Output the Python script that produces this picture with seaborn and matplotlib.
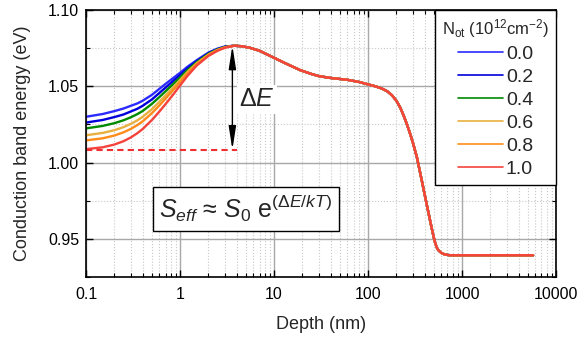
import pandas as pd
import matplotlib
matplotlib.use('Agg')
import matplotlib.pyplot as plt
import seaborn as sns
from matplotlib.ticker import MultipleLocator, FuncFormatter, LogLocator
from matplotlib.lines import Line2D

# N_ot levels (10^12 cm^-2) and colours
levels = ['0.0', '0.2', '0.4', '0.6', '0.8', '1.0']
colors = ['#2b2bff', '#0000dd', '#008a00', '#e8b040', '#ff8c1a', '#f4433c']

# near-surface part, differs per N_ot
depth_left = [0.1, 0.15, 0.2, 0.25, 0.3, 0.35, 0.4, 0.5, 0.6, 0.7, 0.85, 1.0, 1.2, 1.5, 2.0, 2.5, 3.0, 3.75]
e_00 = [1.0300, 1.0318, 1.0337, 1.0354, 1.0372, 1.0387, 1.0405, 1.0443, 1.0482, 1.0515, 1.0555, 1.0588, 1.0628, 1.0670, 1.0720, 1.0746, 1.0760, 1.0765]
e_02 = [1.0262, 1.0279, 1.0298, 1.0315, 1.0335, 1.0352, 1.0372, 1.0413, 1.0455, 1.0491, 1.0536, 1.0573, 1.0617, 1.0664, 1.0716, 1.0743, 1.0759, 1.0765]
e_04 = [1.0224, 1.0240, 1.0258, 1.0277, 1.0297, 1.0317, 1.0338, 1.0384, 1.0428, 1.0467, 1.0516, 1.0558, 1.0606, 1.0657, 1.0712, 1.0741, 1.0757, 1.0765]
e_06 = [1.0179, 1.0194, 1.0212, 1.0232, 1.0254, 1.0276, 1.0300, 1.0349, 1.0397, 1.0440, 1.0494, 1.0541, 1.0594, 1.0650, 1.0707, 1.0738, 1.0755, 1.0765]
e_08 = [1.0145, 1.0159, 1.0177, 1.0198, 1.0221, 1.0245, 1.0270, 1.0323, 1.0373, 1.0419, 1.0477, 1.0527, 1.0584, 1.0644, 1.0704, 1.0736, 1.0754, 1.0765]
e_10 = [1.0088, 1.0100, 1.0118, 1.0140, 1.0165, 1.0192, 1.0220, 1.0278, 1.0333, 1.0383, 1.0448, 1.0505, 1.0568, 1.0635, 1.0698, 1.0732, 1.0752, 1.0765]

# deeper part, same for all curves
depth_tail = [4.5, 5.5, 7, 10, 13, 19, 25, 30, 40, 60, 80, 100, 120, 140, 160, 180, 200, 220, 240,
              260, 280, 300, 330, 373, 420, 474, 500, 520, 540, 560, 600, 650, 720, 800, 1000, 2000, 5700]
e_tail = [1.0762, 1.0752, 1.0732, 1.0686, 1.0652, 1.0605, 1.0580, 1.0566, 1.0554, 1.0542, 1.0528,
          1.0512, 1.0499, 1.0485, 1.0467, 1.0440, 1.0405, 1.0360, 1.0305, 1.0248, 1.0189, 1.0130,
          1.0037, 0.9882, 0.9728, 0.9574, 0.9510, 0.9470, 0.9442, 0.9426, 0.9409, 0.9399, 0.9394,
          0.9393, 0.9393, 0.9393, 0.9393]

series = [e_00, e_02, e_04, e_06, e_08, e_10]
rows = []
for lab, vals in zip(levels, series):
    for d, e in zip(depth_left + depth_tail, vals + e_tail):
        rows.append({'depth': d, 'energy': e, 'N_ot': lab})
df = pd.DataFrame(rows)

# reference level / arrow position
ref_depth = [0.1, 4.0]
ref_level = e_10[0] - 0.0003
peak = max(e_00)
arrow_depth = 3.6

sns.set_style('ticks')
plt.rcParams['font.family'] = ['Liberation Sans', 'DejaVu Sans']
plt.rcParams['mathtext.fontset'] = 'custom'
plt.rcParams['mathtext.rm'] = 'Liberation Sans'
plt.rcParams['mathtext.it'] = 'Liberation Sans:italic'
plt.rcParams['mathtext.bf'] = 'Liberation Sans:bold'

fig, ax = plt.subplots(figsize=(5.78, 3.4), dpi=100)
fig.subplots_adjust(left=0.149, right=0.962, top=0.971, bottom=0.185)

sns.lineplot(data=df, x='depth', y='energy', hue='N_ot', hue_order=levels,
             palette=dict(zip(levels, colors)), estimator=None, sort=False,
             lw=1.7, ax=ax, legend=False)

ax.plot(ref_depth, [ref_level, ref_level], ls=(0, (3, 2)), color='#f03030', lw=1.5)
ax.annotate('', xy=(arrow_depth, peak), xytext=(arrow_depth, ref_level),
            arrowprops=dict(arrowstyle='<|-|>,head_length=1.4,head_width=0.22',
                            color='black', lw=1.0, shrinkA=0, shrinkB=0))
ax.text(4.25, 1.0413, r'$\mathit{ΔE}$', fontsize=18, va='center', ha='left',
        bbox=dict(boxstyle='square,pad=0.1', fc='white', ec='none'))
ax.text(5.0, 0.9698, r'$\mathit{S}_{\mathit{eff}}$ ≈ $\mathit{S}_{\mathit{0}}$ e$^{(\mathit{ΔE/kT})}$',
        fontsize=18, ha='center', va='center',
        bbox=dict(boxstyle='square,pad=0.25', fc='white', ec='black', lw=1.0))

ax.set_xscale('log')
ax.set_xlim(0.1, 10000)
ax.set_ylim(0.925, 1.10)
ax.xaxis.set_major_locator(LogLocator(base=10, numticks=10))
ax.xaxis.set_minor_locator(LogLocator(base=10, subs=range(2, 10), numticks=100))
ax.xaxis.set_major_formatter(FuncFormatter(lambda v, p: f'{v:g}'))
ax.yaxis.set_major_locator(MultipleLocator(0.05))
ax.yaxis.set_minor_locator(MultipleLocator(0.025))
ax.yaxis.set_major_formatter(FuncFormatter(lambda v, p: f'{v:.2f}'))

ax.grid(which='major', color='#a8a8a8', lw=1.0, ls='-')
ax.grid(which='minor', color='#c8c8c8', lw=0.8, ls=':')
ax.set_axisbelow(True)
ax.tick_params(which='both', direction='in', top=True, right=True, colors='black', labelsize=11.5)
ax.tick_params(axis='x', which='major', pad=7)
ax.tick_params(axis='y', which='major', pad=5)
ax.tick_params(which='major', length=5, width=1.0)
ax.tick_params(which='minor', length=3, width=0.8)
for s in ax.spines.values():
    s.set_color('black')
    s.set_linewidth(1.2)

ax.set_xlabel('Depth (nm)', fontsize=13, labelpad=10)
ax.set_ylabel('Conduction band energy (eV)', fontsize=13, labelpad=12)

handles = [Line2D([], [], color=c, lw=1.2) for c in colors]
leg = ax.legend(handles, levels, title=r'N$_{\mathrm{ot}}$ (10$^{12}$cm$^{-2}$)', loc='upper right',
                borderaxespad=0, frameon=True, fancybox=False, edgecolor='black',
                fontsize=14, title_fontsize=12, handlelength=2.3, labelspacing=0.28,
                handletextpad=0.15, borderpad=0.35)
leg.get_frame().set_linewidth(1.0)
leg.get_frame().set_alpha(1)

fig.savefig('out.png', dpi=100)
